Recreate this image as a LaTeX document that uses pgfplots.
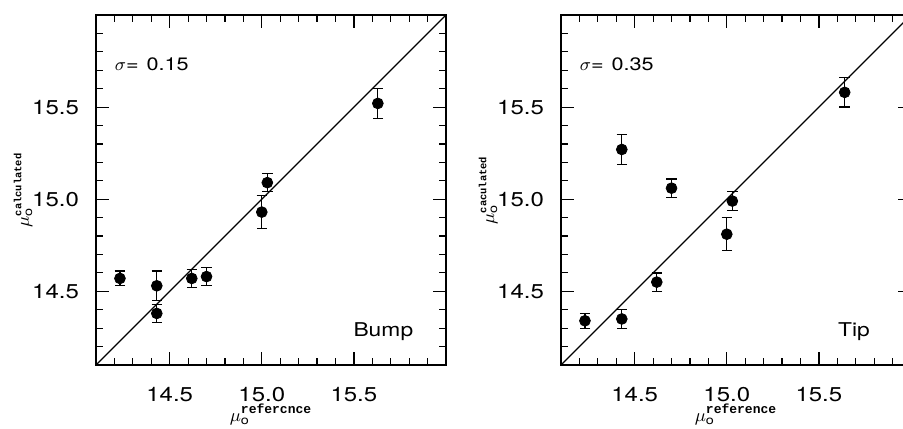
\documentclass[border=0pt]{standalone}
\usepackage{pgfplots}
\pgfplotsset{compat=1.18}
\usepackage{fontspec}
\setmainfont{TeX Gyre Heros}[FakeStretch=1.2]
\newfontfamily\supfont{Liberation Mono}

\pgfplotstableread{
x     y     e
14.23 14.57 0.04
14.43 14.53 0.08
14.43 14.38 0.05
14.62 14.57 0.05
14.70 14.58 0.05
15.00 14.93 0.09
15.03 15.09 0.05
15.63 15.52 0.08
}\bump
\pgfplotstableread{
x     y     e
14.23 14.34 0.04
14.43 14.35 0.05
14.43 15.27 0.08
14.62 14.55 0.05
14.70 15.06 0.05
15.00 14.81 0.09
15.03 14.99 0.05
15.64 15.58 0.08
}\tip

\newcommand{\mulabel}[2]{$\mu_{\mbox{\fontsize{6}{7}\selectfont o}}^{\mbox{\supfont\bfseries\fontsize{#2}{#2}\selectfont #1}}$}

\pgfplotsset{
  panel/.style={
    scale only axis, width=175pt, height=175pt, anchor=south west,
    xmin=14.1, xmax=16, ymin=14.1, ymax=16,
    xtick={14.5,15,15.5}, xticklabels={14.5,15.0,15.5},
    ytick={14.5,15,15.5}, yticklabels={14.5,15.0,15.5},
    minor xtick={14.2,14.3,14.4,14.6,14.7,14.8,14.9,15.1,15.2,15.3,15.4,15.6,15.7,15.8,15.9},
    minor ytick={14.2,14.3,14.4,14.6,14.7,14.8,14.9,15.1,15.2,15.3,15.4,15.6,15.7,15.8,15.9},
    major tick length=6.5pt, minor tick length=3.5pt,
    tick style={black, line width=0.6pt},
    axis line style={line width=0.75pt},
    tick label style={font=\fontsize{10}{11}\selectfont},
    xticklabel style={yshift=-7.5pt},
    yticklabel style={xshift=-5pt},
    label style={font=\fontsize{9.5}{10}\selectfont},
    xlabel style={yshift=5.5pt},
    ylabel style={yshift=-7pt},
    clip=false,
  },
  pts/.style={only marks, mark=*, mark size=2.7pt, black,
    error bars/.cd, y dir=both, y explicit,
    error bar style={line width=0.65pt, black},
    error mark options={rotate=90, line width=0.65pt, mark size=2.6pt, black}},
}

\begin{document}
\begin{tikzpicture}
\path[use as bounding box] (0,0) rectangle (451.5pt,214pt);

\begin{axis}[panel, at={(48pt,31.5pt)},
  xlabel={\mulabel{refercnce}{6.5}},
  ylabel={\mulabel{calculated}{5.2}}]
\addplot[black, line width=0.65pt] coordinates {(14.1,14.1) (16,16)};
\addplot[pts] table[x=x, y=y, y error=e] {\bump};
\node[anchor=west, inner sep=0pt, font=\fontsize{9}{10}\selectfont] at (axis cs:14.2,15.73) {$\sigma$=\hspace{4pt}0.15};
\node[font=\fontsize{9.5}{10}\selectfont] at (axis cs:15.66,14.28) {Bump};
\end{axis}

\begin{axis}[panel, at={(280.5pt,31.5pt)},
  xlabel={\mulabel{reference}{6.5}},
  ylabel={\mulabel{caculated}{5.2}}]
\addplot[black, line width=0.65pt] coordinates {(14.1,14.1) (16,16)};
\addplot[pts] table[x=x, y=y, y error=e] {\tip};
\node[anchor=west, inner sep=0pt, font=\fontsize{9}{10}\selectfont] at (axis cs:14.2,15.73) {$\sigma$=\hspace{4pt}0.35};
\node[font=\fontsize{9.5}{10}\selectfont] at (axis cs:15.69,14.28) {Tip};
\end{axis}
\end{tikzpicture}
\end{document}
